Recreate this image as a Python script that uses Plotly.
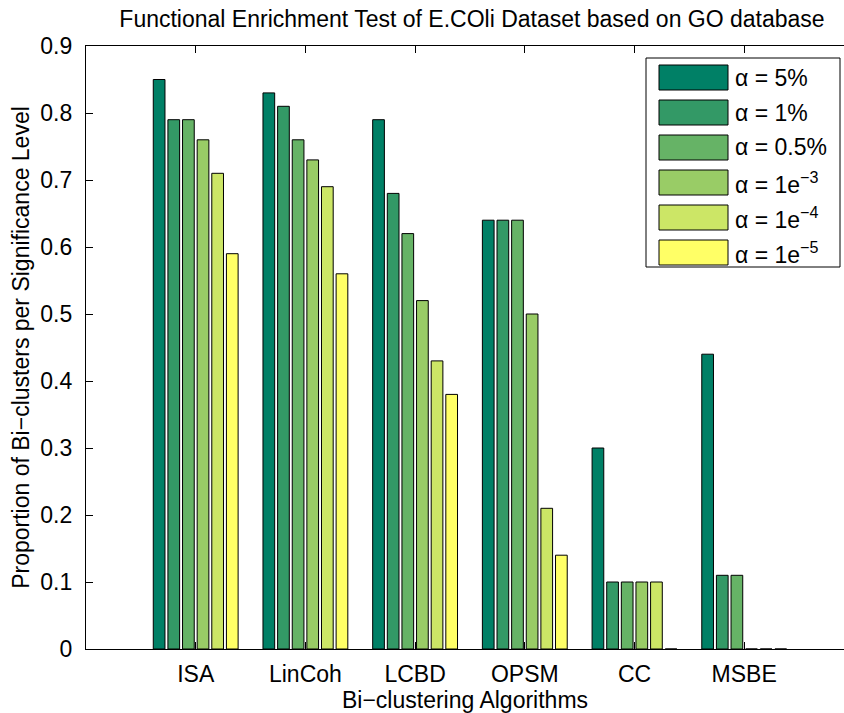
import plotly.graph_objects as go

# ---------------- data ----------------
categories = ["ISA", "LinCoh", "LCBD", "OPSM", "CC", "MSBE"]
series_names = [
    "α = 5%",
    "α = 1%",
    "α = 0.5%",
    "α = 1e<sup>−3</sup>",
    "α = 1e<sup>−4</sup>",
    "α = 1e<sup>−5</sup>",
]
alpha_5pct = [0.85, 0.83, 0.79, 0.64, 0.30, 0.44]
alpha_1pct = [0.79, 0.81, 0.68, 0.64, 0.10, 0.11]
alpha_05pct = [0.79, 0.76, 0.62, 0.64, 0.10, 0.11]
alpha_1e3 = [0.76, 0.73, 0.52, 0.50, 0.10, 0.00]
alpha_1e4 = [0.71, 0.69, 0.43, 0.21, 0.10, 0.00]
alpha_1e5 = [0.59, 0.56, 0.38, 0.14, 0.00, 0.00]
series_values = [alpha_5pct, alpha_1pct, alpha_05pct, alpha_1e3, alpha_1e4, alpha_1e5]
y_tick_values = [0, 0.1, 0.2, 0.3, 0.4, 0.5, 0.6, 0.7, 0.8, 0.9]
y_tick_labels = ["0", "0.1", "0.2", "0.3", "0.4", "0.5", "0.6", "0.7", "0.8", "0.9"]

# ---------------- style ----------------
colors = ["#008066", "#339966", "#66b366", "#99cc66", "#cce666", "#ffff66"]
FONT = "Liberation Sans, Arial, Helvetica, sans-serif"
FS = 23
W, H = 844, 713
L, R, T, B = 86, 0, 46, 64  # plot area: x 86..844, y 46..649
PW, PH = W - L - R, H - T - B


def px_x(px):
    return (px - L) / PW


def px_y(py):
    return (H - B - py) / PH


fig = go.Figure()
for name, vals, col in zip(series_names, series_values, colors):
    fig.add_trace(
        go.Bar(
            x=categories,
            y=vals,
            name=name,
            marker=dict(color=col, line=dict(color="black", width=1)),
            showlegend=False,
        )
    )

# ---------------- custom MATLAB-like legend ----------------
shapes = [
    dict(type="rect", xref="paper", yref="paper",
         x0=px_x(646), x1=px_x(840), y0=px_y(267), y1=px_y(58),
         line=dict(color="black", width=1), fillcolor="white", layer="above")
]
annotations = []
for i, (name, col) in enumerate(zip(series_names, colors)):
    cy = 77.5 + 35 * i
    shapes.append(dict(type="rect", xref="paper", yref="paper",
                       x0=px_x(659), x1=px_x(728), y0=px_y(cy + 12.5), y1=px_y(cy - 12.5),
                       line=dict(color="black", width=1), fillcolor=col, layer="above"))
    annotations.append(dict(xref="paper", yref="paper", x=px_x(733), y=px_y(cy),
                            xanchor="left", yanchor="middle", showarrow=False,
                            text=name, font=dict(family=FONT, size=FS, color="black")))

fig.update_layout(
    width=W, height=H,
    margin=dict(l=L, r=R, t=T, b=B),
    paper_bgcolor="white", plot_bgcolor="white",
    barmode="group", bargap=0.2, bargroupgap=0.2,
    font=dict(family=FONT, size=FS, color="black"),
    title=dict(text="Functional Enrichment Test of E.COli Dataset based on GO database",
               x=472 / W, xref="container", xanchor="center",
               y=1 - 19 / H, yref="container", yanchor="middle",
               font=dict(family=FONT, size=FS, color="black")),
    shapes=shapes,
    annotations=annotations,
    showlegend=False,
)
fig.update_xaxes(
    range=[-1, -1 + PW / 109.7],
    showline=True, linecolor="black", linewidth=1.3, mirror="ticks",
    ticks="inside", ticklen=7, tickcolor="black", tickwidth=1,
    ticklabelstandoff=4,
    showgrid=False, zeroline=False,
    title=dict(text="Bi−clustering Algorithms", standoff=0,
               font=dict(family=FONT, size=FS)),
)
fig.update_yaxes(
    range=[0, 0.9], tickvals=y_tick_values, ticktext=y_tick_labels,
    showline=True, linecolor="black", linewidth=1.3, mirror=False,
    ticks="inside", ticklen=7, tickcolor="black", tickwidth=1,
    ticklabelstandoff=8,
    showgrid=False, zeroline=False,
    title=dict(text="Proportion of Bi−clusters per Significance Level", standoff=4,
               font=dict(family=FONT, size=FS)),
)

fig.write_html("out.html")
